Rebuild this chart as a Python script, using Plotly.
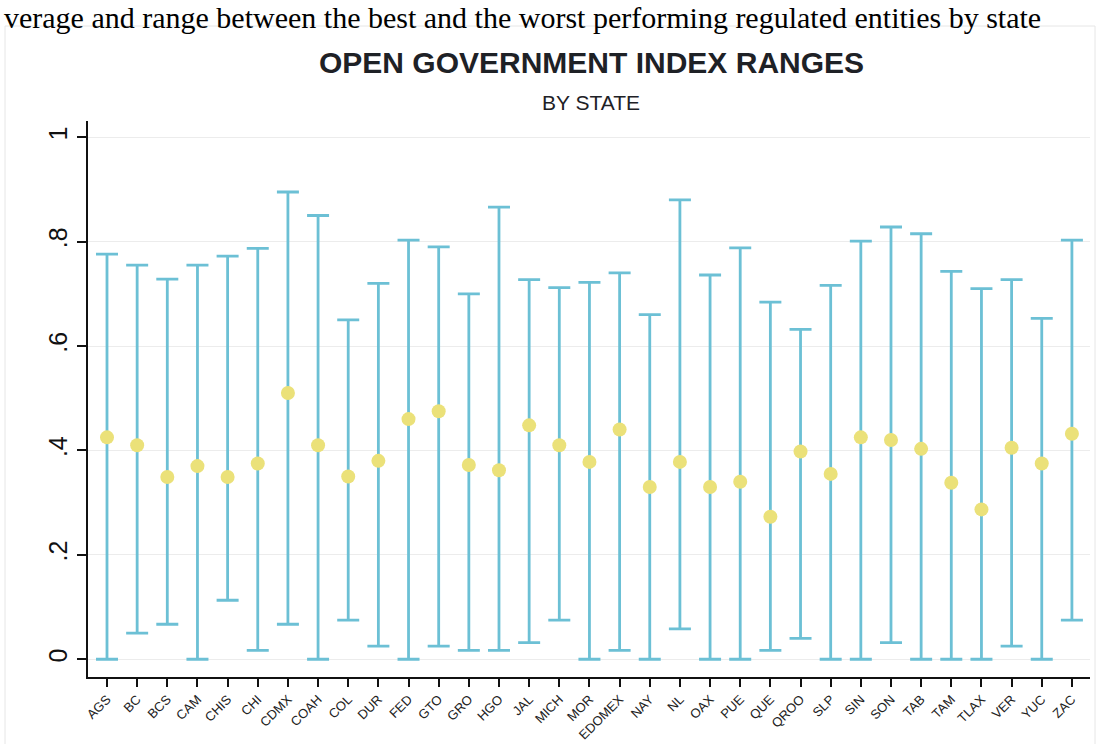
import plotly.graph_objects as go

states = ["AGS", "BC", "BCS", "CAM", "CHIS", "CHI", "CDMX", "COAH", "COL", "DUR",
          "FED", "GTO", "GRO", "HGO", "JAL", "MICH", "MOR", "EDOMEX", "NAY", "NL",
          "OAX", "PUE", "QUE", "QROO", "SLP", "SIN", "SON", "TAB", "TAM", "TLAX",
          "VER", "YUC", "ZAC"]
mean_vals = [0.425, 0.410, 0.349, 0.370, 0.349, 0.375, 0.510, 0.410, 0.350, 0.380,
             0.460, 0.475, 0.372, 0.362, 0.448, 0.410, 0.378, 0.440, 0.330, 0.378,
             0.330, 0.340, 0.273, 0.398, 0.355, 0.425, 0.420, 0.403, 0.338, 0.287,
             0.405, 0.375, 0.432]
max_vals = [0.776, 0.755, 0.728, 0.755, 0.772, 0.787, 0.895, 0.850, 0.650, 0.720,
            0.803, 0.790, 0.700, 0.866, 0.727, 0.712, 0.722, 0.740, 0.660, 0.880,
            0.736, 0.788, 0.684, 0.632, 0.716, 0.801, 0.828, 0.815, 0.743, 0.710,
            0.727, 0.653, 0.803]
min_vals = [0.000, 0.050, 0.067, 0.000, 0.113, 0.017, 0.067, 0.000, 0.075, 0.025,
            0.000, 0.025, 0.017, 0.017, 0.032, 0.075, 0.000, 0.017, 0.000, 0.058,
            0.000, 0.000, 0.017, 0.040, 0.000, 0.000, 0.032, 0.000, 0.000, 0.000,
            0.025, 0.000, 0.075]
y_tick_vals = [0, 0.2, 0.4, 0.6, 0.8, 1]
y_tick_text = ["0", ".2", ".4", ".6", ".8", "1"]

title_text = "OPEN GOVERNMENT INDEX RANGES"
subtitle_text = "BY STATE"
caption_text = "verage and range between the best and the worst performing regulated entities by state"

err_plus = [mx - m for mx, m in zip(max_vals, mean_vals)]
err_minus = [m - mn for m, mn in zip(mean_vals, min_vals)]

fig = go.Figure()
fig.add_trace(go.Scatter(
    x=states, y=mean_vals, mode="markers",
    marker=dict(color="#ebe179", size=14, line=dict(width=0)),
    error_y=dict(type="data", symmetric=False, array=err_plus, arrayminus=err_minus,
                 color="#6cc0d5", thickness=2.8, width=11),
    showlegend=False, hoverinfo="skip",
))

fig.update_layout(
    width=1100, height=744,
    margin=dict(l=88, r=10, t=121, b=67),
    paper_bgcolor="white", plot_bgcolor="white",
    font=dict(family="Liberation Sans, Arial, sans-serif", color="#111111"),
    xaxis=dict(
        type="category", range=[-0.63, 32.6], automargin=False,
        showline=True, linecolor="#111111", linewidth=1.5,
        ticks="outside", ticklen=8, tickcolor="#111111", tickwidth=1.5,
        tickangle=-45, tickfont=dict(size=13, color="#222222"),
        showgrid=False, zeroline=False,
    ),
    yaxis=dict(
        range=[-0.034, 1.031], automargin=False,
        tickvals=y_tick_vals, ticktext=y_tick_text,
        showline=True, linecolor="#111111", linewidth=1.5,
        ticks="outside", ticklen=9, tickcolor="#111111", tickwidth=1.5,
        tickangle=-90, tickfont=dict(size=25, color="#111111"),
        showgrid=True, gridcolor="#ececec", gridwidth=1,
        zeroline=False,
    ),
    shapes=[dict(type="rect", xref="paper", yref="paper",
                 x0=(5 - 88) / 1002, x1=(1095 - 88) / 1002,
                 y0=(677 - 760) / 556, y1=(677 - 26) / 556,
                 line=dict(color="#e6e6e6", width=1), fillcolor="rgba(0,0,0,0)",
                 layer="below")],
    annotations=[
        dict(text="<b>" + title_text + "</b>", xref="paper", yref="paper",
             x=(591 - 88) / 1002, y=(677 - 62) / 556, xanchor="center", yanchor="middle",
             showarrow=False, font=dict(size=30, color="#1e2126",
                                        family="Liberation Sans, Arial, sans-serif")),
        dict(text=subtitle_text, xref="paper", yref="paper",
             x=(591 - 88) / 1002, y=(677 - 102) / 556, xanchor="center", yanchor="middle",
             showarrow=False, font=dict(size=21, color="#1e2126",
                                        family="Liberation Sans, Arial, sans-serif")),
        dict(text=caption_text, xref="paper", yref="paper",
             x=(2 - 88) / 1002, y=(677 + 1) / 556, xanchor="left", yanchor="top",
             showarrow=False, font=dict(size=30, color="#000000",
                                        family="Liberation Serif, Times New Roman, serif")),
    ],
)

fig.write_html("out.html")
